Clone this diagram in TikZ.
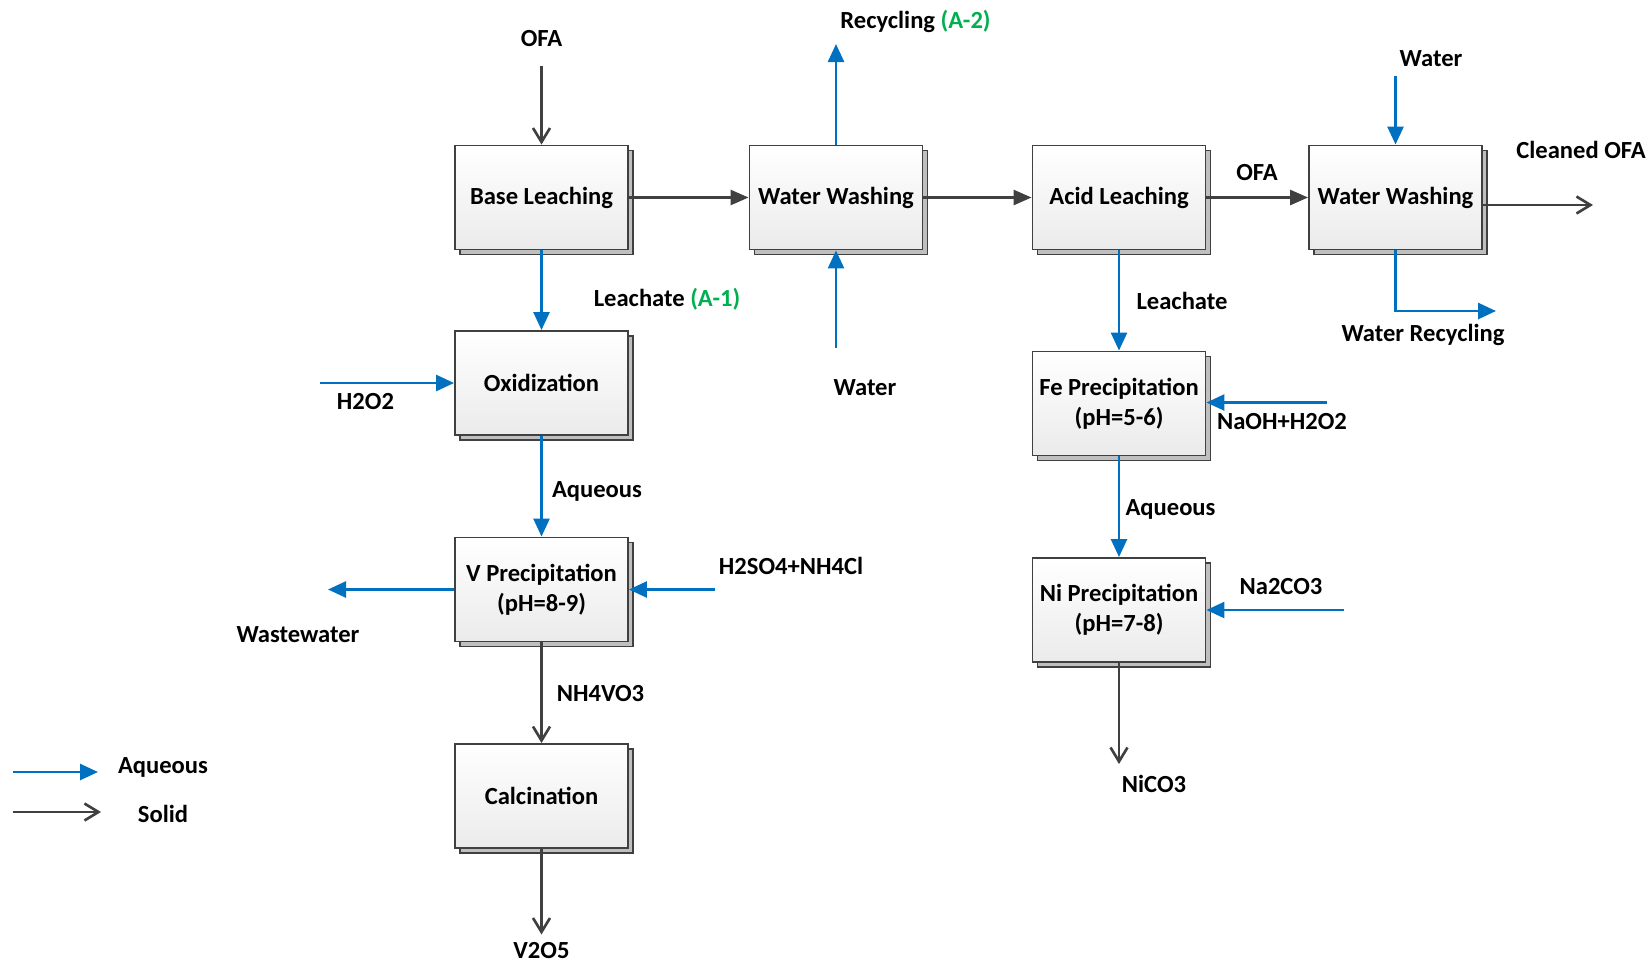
\documentclass[tikz,border=0pt]{standalone}
\usepackage{fontspec}
\setmainfont{Carlito}
\usetikzlibrary{arrows.meta,shadows}
\definecolor{flowblue}{HTML}{0070C0}
\definecolor{solidgray}{HTML}{404040}
\definecolor{taggreen}{HTML}{00B050}
\definecolor{boxline}{HTML}{404040}
\definecolor{shadowgray}{HTML}{BFBFBF}
\tikzset{
  unit/.style={draw=boxline,line width=1.1pt,top color=white,bottom color=black!8,
               minimum width=3.46cm,minimum height=2.08cm,align=center,
               font=\fontsize{14}{17}\selectfont\bfseries,
               general shadow={shadow xshift=0.1cm,shadow yshift=-0.1cm,
                               fill=shadowgray,draw=boxline,line width=1.1pt}},
  lbl/.style={font=\fontsize{14}{17}\selectfont\bfseries,inner sep=0pt},
  aqarrow/.style={-{Triangle[length=0.36cm,width=0.32cm]},line width=1.5pt,flowblue},
  solidarrow/.style={-{Straight Barb[length=0.28cm,width=0.34cm]},line width=1.5pt,solidgray},
  feedarrow/.style={-{Triangle[length=0.36cm,width=0.3cm]},line width=1.5pt,solidgray},
}
\begin{document}
\begin{tikzpicture}[x=0.02cm,y=-0.02cm]
  \useasboundingbox (0,0) rectangle (1652,964);

  % main line
  \node[unit](base)at(541.5,197.5){Base Leaching};
  \node[unit](wash1)at(836,197.5){Water Washing};
  \node[unit](acid)at(1119,197.5){Acid Leaching};
  \node[unit](wash2)at(1395.5,197.5){Water Washing};

  % vanadium branch
  \node[unit](oxid)at(541.5,383){Oxidization};
  \node[unit](vprec)at(541.5,589.5){V Precipitation\\(pH=8-9)};
  \node[unit](calc)at(541.5,796){Calcination};

  % nickel branch
  \node[unit](feprec)at(1119,403.5){Fe Precipitation\\(pH=5-6)};
  \node[unit](niprec)at(1119,610){Ni Precipitation\\(pH=7-8)};

  % free ends
  \coordinate (ofain) at (541.5,66);
  \coordinate (recyc) at (836,44);
  \coordinate (water1) at (836,348);
  \coordinate (water2) at (1395.5,76);
  \coordinate (cleaned) at (1593,205);
  \coordinate (wrec) at (1496,311);
  \coordinate (h2o2) at (320,383);
  \coordinate (waste) at (328,589.5);
  \coordinate (acidin) at (715,589.5);
  \coordinate (v2o5) at (541.5,934.5);
  \coordinate (naoh) at (1326.5,402.5);
  \coordinate (naco) at (1344,610);
  \coordinate (nico) at (1119,764);

  % solid flows
  \draw[solidarrow](ofain)--(base);
  \draw[feedarrow](base)--(wash1);
  \draw[feedarrow](wash1)--(acid);
  \draw[feedarrow](acid)--(wash2);
  \draw[solidarrow](wash2.east |- cleaned)--(cleaned);
  \draw[solidarrow](vprec)--(calc);
  \draw[solidarrow](calc)--(v2o5);
  \draw[solidarrow](niprec)--(nico);

  % aqueous flows
  \draw[aqarrow](wash1)--(recyc);
  \draw[aqarrow](water1)--(wash1);
  \draw[aqarrow](water2)--(wash2);
  \draw[aqarrow](wash2.south)|-(wrec);
  \draw[aqarrow](base)--(oxid);
  \draw[aqarrow](h2o2)--(oxid);
  \draw[aqarrow](oxid)--(vprec);
  \draw[aqarrow](vprec)--(waste);
  \draw[aqarrow](acidin)--(vprec);
  \draw[aqarrow](acid)--(feprec);
  \draw[aqarrow](naoh)--(naoh -| feprec.east);
  \draw[aqarrow](feprec)--(niprec);
  \draw[aqarrow](naco)--(niprec);

  % labels
  \node[lbl](tofa)at(541.5,39){OFA};
  \node[lbl](trecyc)at(915.5,21){Recycling {\color{taggreen}(A-2)}};
  \node[lbl](twater1)at(865,388){Water};
  \node[lbl](tofa2)at(1257,173){OFA};
  \node[lbl](twater2)at(1431,59){Water};
  \node[lbl](tclean)at(1581,150){Cleaned OFA};
  \node[lbl](twrec)at(1423,335){Water Recycling};
  \node[lbl](tleach1)at(667,299){Leachate {\color{taggreen}(A-1)}};
  \node[lbl](th2o2)at(365.5,401.5){H2O2};
  \node[lbl](taq1)at(597,491){Aqueous};
  \node[lbl](twaste)at(298,635){Wastewater};
  \node[lbl](tacid)at(791,566){H2SO4+NH4Cl};
  \node[lbl](tnh4)at(600.5,694){NH4VO3};
  \node[lbl](tv2o5)at(541.5,951){V2O5};
  \node[lbl](tleach2)at(1182,301){Leachate};
  \node[lbl](tnaoh)at(1282,421.5){NaOH+H2O2};
  \node[lbl](taq2)at(1170.5,509){Aqueous};
  \node[lbl](tnaco)at(1281,587){Na2CO3};
  \node[lbl](tnico)at(1154,784){NiCO3};

  % legend
  \coordinate (keyaqa) at (12.6,772);
  \coordinate (keyaqb) at (98,772);
  \coordinate (keysoa) at (12.6,812);
  \coordinate (keysob) at (101,812);
  \draw[aqarrow](keyaqa)--(keyaqb);
  \draw[solidarrow](keysoa)--(keysob);
  \node[lbl](keyaq)at(163,767){Aqueous};
  \node[lbl](keyso)at(163,814){Solid};
\end{tikzpicture}
\end{document}
